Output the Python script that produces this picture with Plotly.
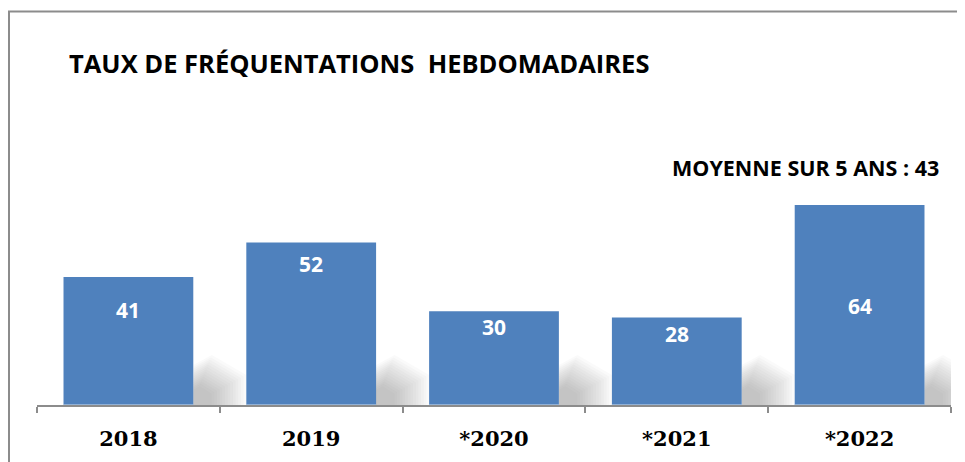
import plotly.graph_objects as go

# ---- data ----
categories = ["2018", "2019", "*2020", "*2021", "*2022"]
values = [41, 52, 30, 28, 64]
title_text = "TAUX DE FRÉQUENTATIONS  HEBDOMADAIRES"
note_text = "MOYENNE SUR 5 ANS : 43"

# ---- style / layout ----
W, H = 965, 462
OFF = 8  # page body margin offset of the rendered figure
ML, MR, MT, MB = 37 - OFF, 22, 92, 65
PW, PH = W - ML - MR, H - MT - MB
PX_PER_UNIT = 3.125
YMAX = PH / PX_PER_UNIT
BAR_COLOR = "#4F81BD"
BARGAP = 0.29
label_offsets_px = [-33, -21, -16, -16, -101]  # label centre below bar top


def px_to_paper_x(px):
    return (px - OFF - ML) / PW


def px_to_paper_y(py):
    return (H - MB - (py - OFF)) / PH


fig = go.Figure()
fig.add_trace(go.Bar(
    x=list(range(len(categories))), y=values,
    marker=dict(color=BAR_COLOR, line=dict(width=0)),
    hovertext=categories, hoverinfo="text+y",
))

# value labels
for i, (v, off) in enumerate(zip(values, label_offsets_px)):
    fig.add_annotation(
        x=i, y=v, xref="x", yref="y", text="<b>" + str(v) + "</b>",
        showarrow=False, yshift=off,
        font=dict(family="Open Sans", size=21, color="white"),
    )

# soft shadows to the right of each bar
half = (1 - BARGAP) / 2
shapes = []
N_LAYERS = 14
for i, v in enumerate(values):
    x0 = i + half
    for k in range(N_LAYERS):
        f = k / (N_LAYERS - 1)
        w = 0.29 - f * 0.19
        h = 16 - f * 10
        shapes.append(dict(
            type="path", xref="x", yref="y", layer="below",
            path=(f"M {x0} 0 L {x0} {h * 0.8} L {x0 + w * 0.35} {h} "
                  f"L {x0 + w} {h * 0.6} L {x0 + w} 0 Z"),
            fillcolor="rgba(120,120,120,0.038)", line=dict(width=0),
        ))

# outer frame
shapes.append(dict(
    type="rect", xref="paper", yref="paper",
    x0=px_to_paper_x(9), x1=px_to_paper_x(1000),
    y0=px_to_paper_y(500), y1=px_to_paper_y(11.5),
    line=dict(color="#8C8C8C", width=2), fillcolor="rgba(0,0,0,0)",
    layer="below",
))
fig.update_layout(shapes=shapes)

fig.add_annotation(
    xref="paper", yref="paper", x=px_to_paper_x(67), y=px_to_paper_y(63),
    xanchor="left", yanchor="middle", showarrow=False,
    text="<b>" + title_text + "</b>",
    font=dict(family="Open Sans", size=25.5, color="#000000"),
)
fig.add_annotation(
    xref="paper", yref="paper", x=px_to_paper_x(941), y=px_to_paper_y(167),
    xanchor="right", yanchor="middle", showarrow=False,
    text="<b>" + note_text + "</b>",
    font=dict(family="Open Sans", size=21.5, color="#000000"),
)

fig.update_layout(
    width=W, height=H,
    margin=dict(l=ML, r=MR, t=MT, b=MB, autoexpand=False),
    paper_bgcolor="white", plot_bgcolor="white",
    bargap=BARGAP, showlegend=False,
    xaxis=dict(
        range=[-0.5, len(categories) - 0.5],
        tickmode="array",
        tickvals=[i - 0.5 for i in range(len(categories) + 1)],
        ticktext=[""] * (len(categories) + 1),
        ticks="outside", ticklen=6,
        tickcolor="#8C8C8C", tickwidth=2,
        showline=True, linecolor="#8C8C8C", linewidth=2,
        showgrid=False, zeroline=False, automargin=False,
        fixedrange=True,
    ),
    xaxis2=dict(
        overlaying="x", matches="x", side="bottom",
        tickmode="array", tickvals=list(range(len(categories))),
        ticktext=["<b>" + c + "</b>" for c in categories],
        tickangle=0, ticks="", showline=False, showgrid=False,
        zeroline=False, automargin=False,
        tickfont=dict(family="DejaVu Serif", size=21, color="#000000"),
        ticklabelstandoff=19,
    ),
    yaxis=dict(range=[0, YMAX], visible=False, showgrid=False,
               zeroline=False, fixedrange=True),
)
# invisible trace to bind the label axis
fig.add_trace(go.Bar(x=list(range(len(categories))), y=[0] * len(categories),
                     xaxis="x2", hoverinfo="skip", showlegend=False,
                     marker=dict(color="rgba(0,0,0,0)")))

fig.write_html("out.html")
